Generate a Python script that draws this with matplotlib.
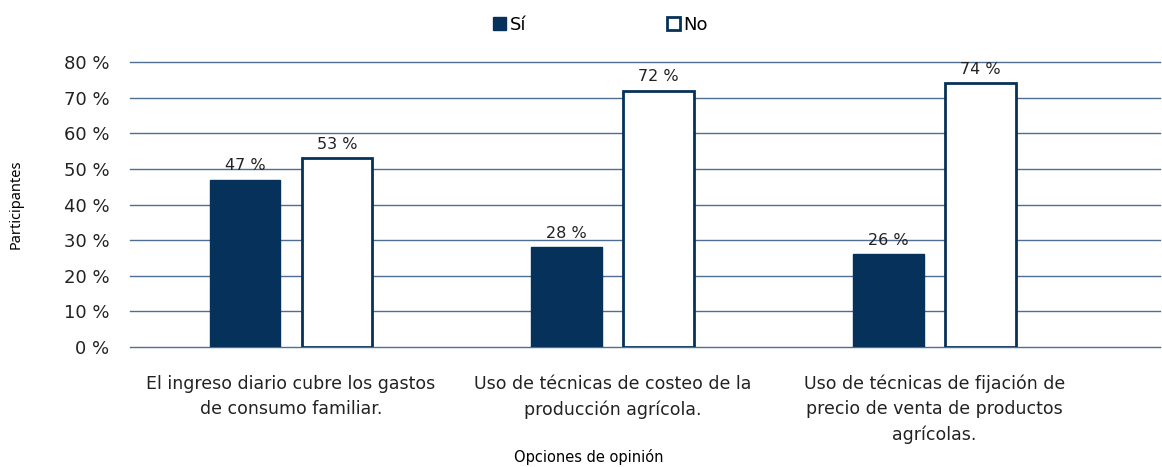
import matplotlib
matplotlib.use('Agg')
import matplotlib.pyplot as plt
import numpy as np
from matplotlib.ticker import FuncFormatter

plt.rcParams['font.family'] = ['DejaVu Sans']

categories = [
    'El ingreso diario cubre los gastos\nde consumo familiar.',
    'Uso de técnicas de costeo de la\nproducción agrícola.',
    'Uso de técnicas de fijación de\nprecio de venta de productos\nagrícolas.',
]
si_values = [47, 28, 26]
no_values = [53, 72, 74]
series_names = ['Sí', 'No']

navy = '#06315a'
grid_color = '#4f6e91'
text_color = '#222222'

fig = plt.figure(figsize=(11.62, 4.67), dpi=100)
ax = fig.add_axes([0.112, 0.257, 0.886, 0.61])

x = np.arange(len(categories))
w = 0.22
off = 0.143
b1 = ax.bar(x - off, si_values, w, color=navy, edgecolor=navy, linewidth=1, label=series_names[0], zorder=3)
b2 = ax.bar(x + off, no_values, w, color='white', edgecolor=navy, linewidth=2, label=series_names[1], zorder=3)

for bars in (b1, b2):
    for bar in bars:
        h = bar.get_height()
        ax.text(bar.get_x() + bar.get_width() / 2, h + 1.8, f'{h:.0f} %',
                ha='center', va='bottom', fontsize=11.5, color=text_color)

ax.set_ylim(0, 80)
ax.set_xlim(-0.5, 2.7)
ax.set_yticks(range(0, 81, 10))
ax.yaxis.set_major_formatter(FuncFormatter(lambda v, p: f'{v:.0f} %'))
ax.grid(True, axis='y', color=grid_color, linewidth=1, zorder=0)
ax.set_axisbelow(True)
for gl in ax.get_ygridlines():
    gl.set_clip_on(False)
for s in ax.spines.values():
    s.set_visible(False)
ax.tick_params(axis='both', length=0)
ax.tick_params(axis='y', labelsize=13, pad=15, labelcolor=text_color)
ax.set_xticks(x)
ax.set_xticklabels(categories, fontsize=12.5, color=text_color, linespacing=1.5)
ax.tick_params(axis='x', pad=20)

ax.set_ylabel('Participantes', fontsize=10.5, family=['Noto Sans', 'DejaVu Sans'])
ax.yaxis.set_label_coords(-0.103, 0.5)
ax.set_xlabel('Opciones de opinión', fontsize=10.5, va='center')
ax.xaxis.set_label_coords(0.445, -0.386)

ax.legend(loc='upper center', bbox_to_anchor=(0.457, 1.22), ncol=2, frameon=False,
          fontsize=13, handlelength=0.7, handleheight=0.7, columnspacing=7.8, handletextpad=0.2)

fig.savefig('out.png', dpi=100, facecolor='white')
